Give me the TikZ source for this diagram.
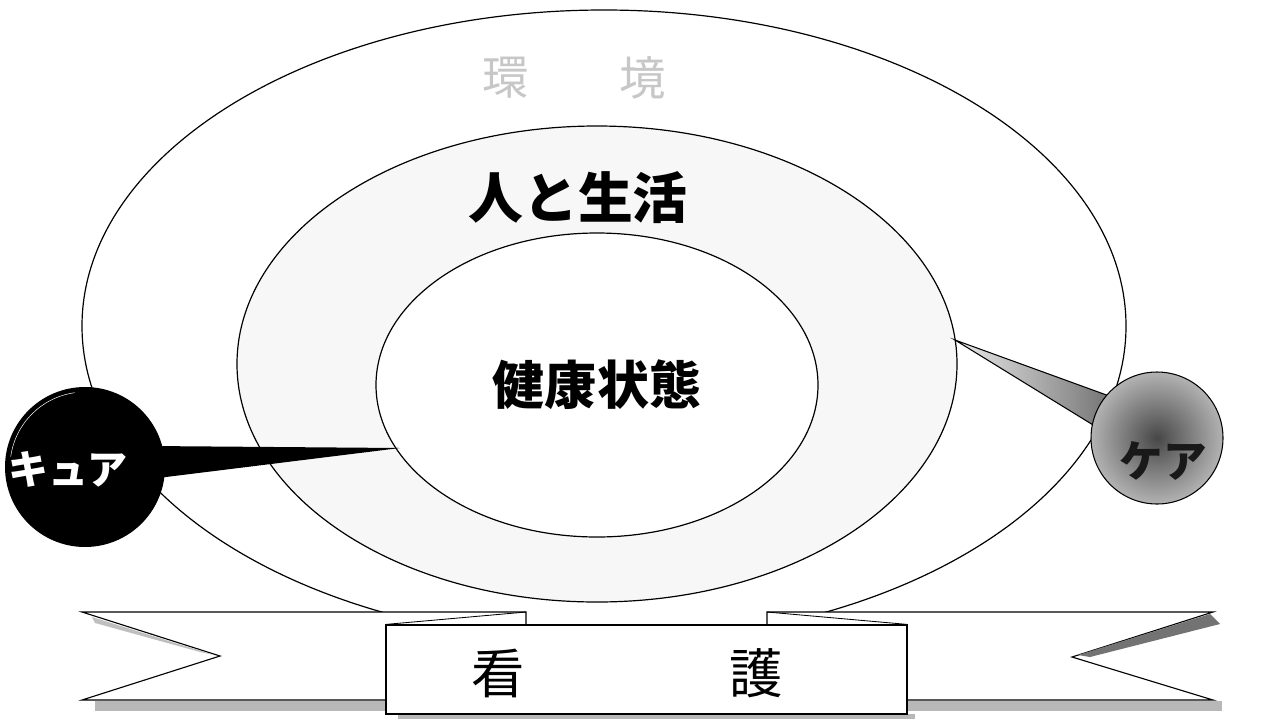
\documentclass[tikz,border=0pt]{standalone}
\usepackage{fontspec}
\newfontfamily\jp{Noto Sans CJK JP}
\begin{document}
\begin{tikzpicture}[x=0.05cm,y=-0.05cm,
  ring/.style={draw=black,line width=1.7pt},
  rib/.style={draw=black,line width=1.6pt,fill=white},
  jpbold/.style={font=\jp\bfseries\fontsize{#1}{#1}\selectfont,inner sep=0pt},
  jpreg/.style={font=\jp\fontsize{#1}{#1}\selectfont,inner sep=0pt},
  shadowband/.style={fill=black!28}]
\useasboundingbox (0,0) rectangle (1268,720);
% rings
\draw[ring,fill=white] (604,326) ellipse [x radius=522, y radius=316];
\draw[ring,fill=black!3] (597,364) ellipse [x radius=360, y radius=238];
\draw[ring,fill=white] (597,385) ellipse [x radius=221, y radius=152];
% labels in rings
\node[jpreg=66pt,text=black!22] (kan) at (506,78) {環};
\node[jpreg=66pt,text=black!22] (kyo) at (643,78) {境};
\node[jpbold=78pt] (hito) at (578,198) {人と生活};
\node[jpbold=74pt] (kenko) at (597,385) {健康状態};
% cure
\coordinate (cureTip) at (400,448);
\coordinate (cureA) at (150,446);
\coordinate (cureB) at (158,478);
\fill[black] (cureA) -- (cureTip) -- (cureB) -- cycle;
\node[circle,fill=black,inner sep=0pt,minimum size=8cm] (cure) at (85,467) {};
\draw[white,line width=0.7pt] (85,467) ++(188:75) arc[start angle=188,end angle=262,radius=75];
\node[jpbold=57pt,text=white] (cureText) at (68,469) {キュア};
% care
\coordinate (careRoot) at (955,340);
\coordinate (careA) at (1112,397);
\coordinate (careB) at (1098,428);
\shade[left color=black!8,right color=black!55] (careRoot) -- (careA) -- (careB) -- cycle;
\draw[line width=1.5pt] (careA) -- (careRoot) -- (careB);
\node[circle,draw=black,line width=1.5pt,inner sep=0pt,minimum size=6.6cm,
  inner color=black!72,outer color=black!30] (care) at (1157,438) {};
\node[jpbold=62pt,text=black!90] (careText) at (1163,461) {ケア};
% ribbon shadows
\fill[shadowband] (95,701) rectangle (386,711);
\fill[shadowband] (907,701) rectangle (1222,711);
\fill[shadowband] (398,714) rectangle (915,719);
% ribbon
\draw[rib] (82,612) -- (526,612) -- (526,700) -- (82,700) -- (220,656) -- cycle;
\draw[rib] (1213,612) -- (767,612) -- (767,700) -- (1213,700) -- (1072,657) -- cycle;
\fill[black!25] (92,617) -- (214,655) -- (200,652) -- (95,623) -- cycle;
\fill[black!55] (1078,655) -- (1210,614) -- (1220,624) -- (1090,657) -- cycle;
% center box
\node[draw=black,line width=1.6pt,fill=white,inner sep=0pt,
  minimum width=26.05cm,minimum height=4.45cm] (kango) at (646.5,669.5) {};
\draw[line width=1.2pt] (kango.north west) -- (526,612);
\draw[line width=1.2pt] (kango.north east) -- (767,612);
\node[jpreg=76pt] (kan2) at (498,673) {看};
\node[jpreg=76pt] (go) at (756,673) {護};
\end{tikzpicture}
\end{document}
